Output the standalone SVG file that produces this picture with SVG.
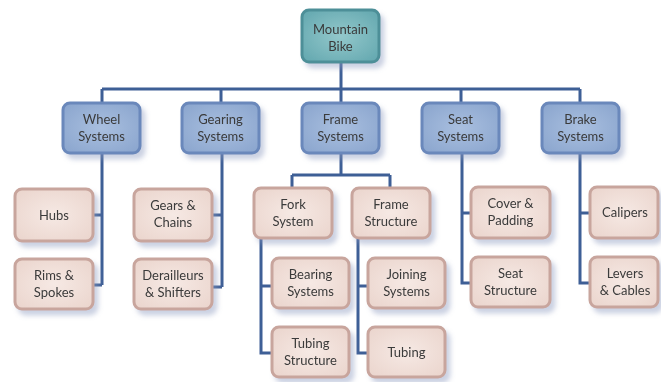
<svg xmlns="http://www.w3.org/2000/svg" width="661" height="382" viewBox="0 0 661 382">
<style>
text{font-family:Lato,"Open Sans","Liberation Sans",sans-serif;font-size:13px;fill:#3a3a3a;text-anchor:middle}
.root{fill:url(#gRoot);stroke:#4e8f98;stroke-width:3}
.l2{fill:url(#gL2);stroke:#6b88bb;stroke-width:3}
.leaf{fill:url(#gLeaf);stroke:#c8a59d;stroke-width:3}
.c{fill:none;stroke:#3e5f96;stroke-width:3}
.sh{filter:url(#ds)}
</style>
<defs>
<radialGradient id="gRoot" cx="50%" cy="50%" r="70%"><stop offset="0" stop-color="#93c8cb"/><stop offset="1" stop-color="#61a6ae"/></radialGradient>
<radialGradient id="gL2" cx="50%" cy="50%" r="70%"><stop offset="0" stop-color="#a9bfdf"/><stop offset="1" stop-color="#89a4cd"/></radialGradient>
<radialGradient id="gLeaf" cx="50%" cy="50%" r="70%"><stop offset="0" stop-color="#f6e9e4"/><stop offset="1" stop-color="#ead4cc"/></radialGradient>
<filter id="ds" x="-20%" y="-20%" width="150%" height="160%"><feDropShadow dx="4" dy="5" stdDeviation="2.5" flood-color="#8c9abf" flood-opacity="0.45"/></filter>
</defs>
<rect width="661" height="382" fill="#ffffff"/>
<g id="connectors">
<path class="c" d="M341 62V89M102 89H580M102 89V103M221 89V103M341 89V103M461 89V103M580 89V103"/>
<path class="c" d="M102 153V285M93 215H102M93 285H102"/>
<path class="c" d="M222 153V287M212 215H222M212 287H222"/>
<path class="c" d="M341 153V175M292 175H390M292 175V188M390 175V188"/>
<path class="c" d="M261 238V353H272M261 286H272"/>
<path class="c" d="M358 238V353H368M358 286H368"/>
<path class="c" d="M462 153V283H471M462 213H471"/>
<path class="c" d="M580 153V283H590M580 213H590"/>
</g>
<g id="mountain-bike" class="sh"><rect class="root" x="302" y="10" width="77" height="52" rx="7"/><text x="340.5" y="34">Mountain</text><text x="340.5" y="51">Bike</text></g>
<g id="wheel-systems" class="sh"><rect class="l2" x="63" y="103" width="77" height="50" rx="7"/><text x="101.5" y="124">Wheel</text><text x="101.5" y="141">Systems</text></g>
<g id="gearing-systems" class="sh"><rect class="l2" x="182" y="103" width="77" height="50" rx="7"/><text x="220.5" y="124">Gearing</text><text x="220.5" y="141">Systems</text></g>
<g id="frame-systems" class="sh"><rect class="l2" x="302" y="103" width="77" height="50" rx="7"/><text x="340.5" y="124">Frame</text><text x="340.5" y="141">Systems</text></g>
<g id="seat-systems" class="sh"><rect class="l2" x="422" y="103" width="77" height="50" rx="7"/><text x="460.5" y="124">Seat</text><text x="460.5" y="141">Systems</text></g>
<g id="brake-systems" class="sh"><rect class="l2" x="542" y="103" width="77" height="50" rx="7"/><text x="580.5" y="124">Brake</text><text x="580.5" y="141">Systems</text></g>
<g id="hubs" class="sh"><rect class="leaf" x="15" y="189" width="78" height="52" rx="7"/><text x="54" y="219.5">Hubs</text></g>
<g id="rims-spokes" class="sh"><rect class="leaf" x="15" y="259" width="78" height="50" rx="7"/><text x="54" y="280">Rims &amp;</text><text x="54" y="297">Spokes</text></g>
<g id="gears-chains" class="sh"><rect class="leaf" x="134" y="189" width="78" height="52" rx="7"/><text x="173" y="210">Gears &amp;</text><text x="173" y="227">Chains</text></g>
<g id="derailleurs-shifters" class="sh"><rect class="leaf" x="134" y="259" width="78" height="50" rx="7"/><text x="173" y="280">Derailleurs</text><text x="173" y="297">&amp; Shifters</text></g>
<g id="fork-system" class="sh"><rect class="leaf" x="254" y="188" width="78" height="50" rx="7"/><text x="293" y="209">Fork</text><text x="293" y="226">System</text></g>
<g id="frame-structure" class="sh"><rect class="leaf" x="352" y="188" width="78" height="50" rx="7"/><text x="391" y="209">Frame</text><text x="391" y="226">Structure</text></g>
<g id="bearing-systems" class="sh"><rect class="leaf" x="272" y="258" width="77" height="50" rx="7"/><text x="310.5" y="279">Bearing</text><text x="310.5" y="296">Systems</text></g>
<g id="tubing-structure" class="sh"><rect class="leaf" x="272" y="327" width="77" height="50" rx="7"/><text x="310.5" y="348">Tubing</text><text x="310.5" y="365">Structure</text></g>
<g id="joining-systems" class="sh"><rect class="leaf" x="368" y="258" width="77" height="50" rx="7"/><text x="406.5" y="279">Joining</text><text x="406.5" y="296">Systems</text></g>
<g id="tubing" class="sh"><rect class="leaf" x="368" y="327" width="77" height="50" rx="7"/><text x="406.5" y="357">Tubing</text></g>
<g id="cover-padding" class="sh"><rect class="leaf" x="471" y="187" width="79" height="51" rx="7"/><text x="510.5" y="208">Cover &amp;</text><text x="510.5" y="225">Padding</text></g>
<g id="seat-structure" class="sh"><rect class="leaf" x="471" y="257" width="79" height="50" rx="7"/><text x="510.5" y="278">Seat</text><text x="510.5" y="295">Structure</text></g>
<g id="calipers" class="sh"><rect class="leaf" x="590" y="187" width="68" height="51" rx="7"/><text x="625" y="217">Calipers</text></g>
<g id="levers-cables" class="sh"><rect class="leaf" x="590" y="257" width="68" height="50" rx="7"/><text x="625" y="278">Levers</text><text x="625" y="295">&amp; Cables</text></g>
</svg>
